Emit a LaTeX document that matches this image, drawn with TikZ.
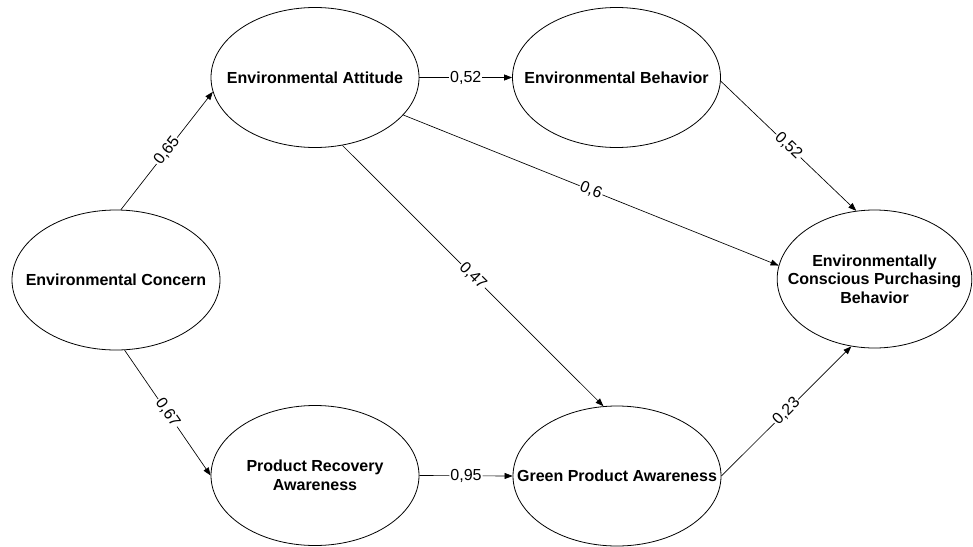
\documentclass[tikz,border=0pt]{standalone}
\usepackage{fontspec}
\setmainfont{Liberation Sans}
\usetikzlibrary{shapes.geometric,arrows.meta}

\begin{document}
\begin{tikzpicture}[
  x=0.75pt, y=-0.75pt,
  construct/.style={ellipse, draw=black, line width=0.6pt, inner sep=-100pt, minimum width=156pt, minimum height=105pt, align=center, font=\fontsize{12}{14}\selectfont\bfseries},
  link/.style={line width=0.5pt, draw=black, -{Triangle[length=6pt,width=4.5pt]}},
  coef/.style={midway, sloped, fill=white, inner sep=0.8pt, font=\fontsize{12}{14}\selectfont}
]
  \useasboundingbox (0,0) rectangle (973,546);

  % Constructos
  \node[construct] (ec) at (116,280) {Environmental Concern};
  \node[construct] (ea) at (315,77.5) {Environmental Attitude};
  \node[construct] (eb) at (616.5,77.5) {Environmental Behavior};
  \node[construct] (pra) at (315,475.5) {Product Recovery\\Awareness};
  \node[construct] (gpa) at (617,476) {Green Product Awareness};
  \node[construct, minimum width=146pt, minimum height=103.5pt] (ecpb) at (874.5,279) {Environmentally\\Conscious Purchasing\\Behavior};

  % Relaciones
  \draw[link] (ec.86) -- node[coef] {0,65} (ea.188);
  \draw[link] (ea.east) -- node[coef] {0,52} (eb.west);
  \draw[link] (ea.337) -- node[coef] {0,6} (ecpb.172);
  \draw[link] (ea.292) -- node[coef] {0,47} (gpa.101);
  \draw[link] (eb.358) -- node[coef] {0,52} (ecpb.105);
  \draw[link] (ec.277) -- node[coef] {0,67} (pra.west);
  \draw[link] (pra.east) -- node[coef] {0,95} (gpa.west);
  \draw[link] (gpa.east) -- node[coef] {0,23} (ecpb.251);
\end{tikzpicture}
\end{document}
